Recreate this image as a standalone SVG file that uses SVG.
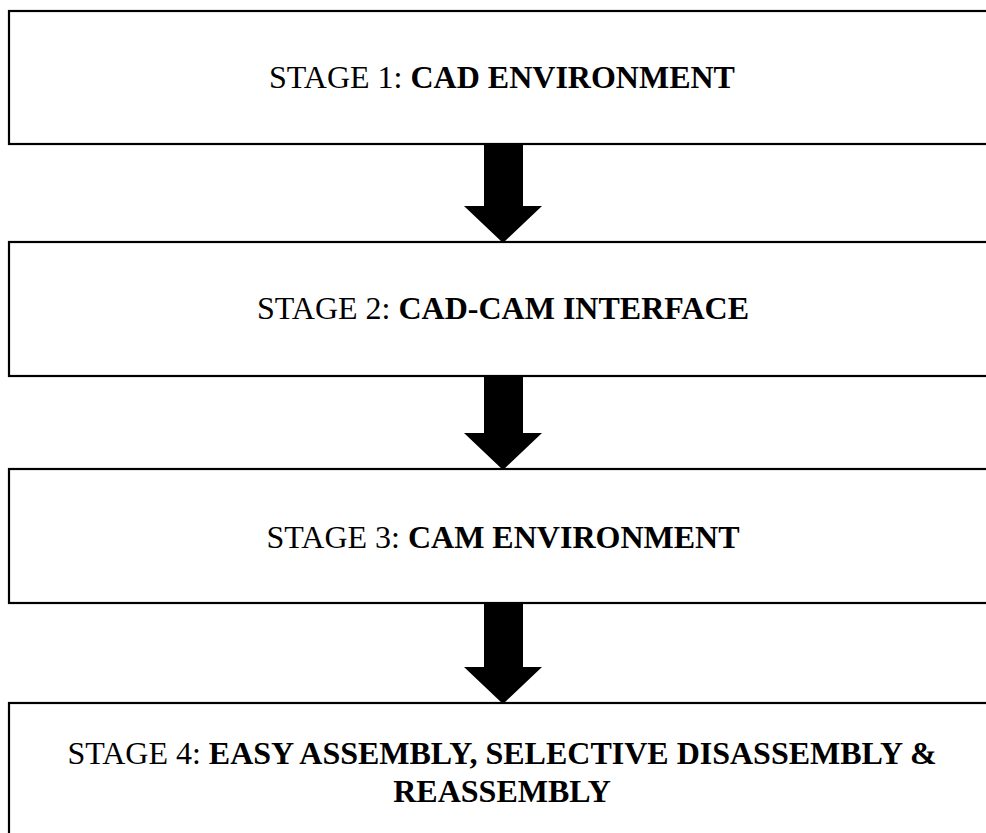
<svg xmlns="http://www.w3.org/2000/svg" width="986" height="833" viewBox="0 0 986 833">
<style>
.box{fill:#fff;stroke:#000;stroke-width:2.2}
.t{font-family:"Liberation Serif","Times New Roman",serif;font-size:32px;fill:#000;text-anchor:middle}
.b{font-weight:bold}
.arr{fill:#000}
</style>
<rect width="986" height="833" fill="#fff"/>
<g id="stage1">
<rect class="box" x="9" y="11" width="1000" height="133"/>
<text class="t" x="502" y="88">STAGE 1: <tspan class="b">CAD ENVIRONMENT</tspan></text>
</g>
<g id="stage2">
<rect class="box" x="9" y="242" width="1000" height="134"/>
<text class="t" x="503" y="319">STAGE 2: <tspan class="b">CAD-CAM INTERFACE</tspan></text>
</g>
<g id="stage3">
<rect class="box" x="9" y="469" width="1000" height="134"/>
<text class="t" x="503" y="548">STAGE 3: <tspan class="b">CAM ENVIRONMENT</tspan></text>
</g>
<g id="stage4">
<rect class="box" x="9" y="703" width="1000" height="160"/>
<text class="t" x="502" y="764">STAGE 4: <tspan class="b">EASY ASSEMBLY, SELECTIVE DISASSEMBLY &amp;</tspan></text>
<text class="t b" x="502" y="802">REASSEMBLY</text>
</g>
<g id="connectors">
<polygon class="arr" points="484,144 523,144 523,206 542,206 503,243 464,206 484,206"/>
<polygon class="arr" points="484,376 523,376 523,433 542,433 503,470 464,433 484,433"/>
<polygon class="arr" points="484,603 523,603 523,667 542,667 503,704 464,667 484,667"/>
</g>
</svg>
